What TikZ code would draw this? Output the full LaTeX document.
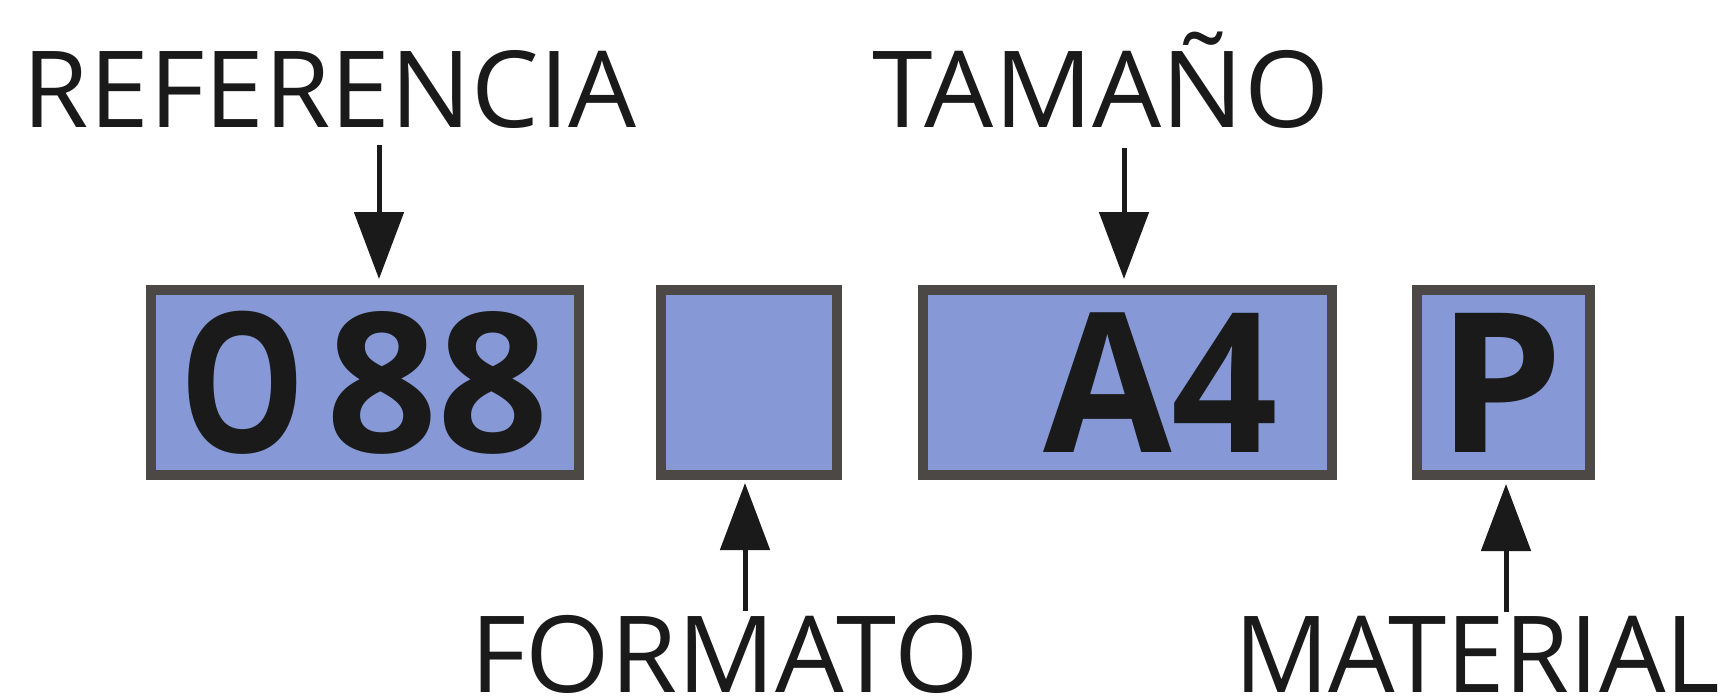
\documentclass[tikz,border=0pt]{standalone}
\usepackage{fontspec}
\setmainfont{Open Sans}
\usetikzlibrary{arrows.meta}
\definecolor{boxfill}{HTML}{8699D6}
\definecolor{boxline}{HTML}{4B4845}
\definecolor{inkc}{HTML}{1A1A1A}
\begin{document}
\begin{tikzpicture}[x=1pt,y=-1pt,
  codebox/.style={draw=boxline,line width=10pt,fill=boxfill,inner sep=0pt,minimum height=185pt},
  lbl/.style={anchor=base west,inner sep=0pt,outer sep=0pt,text=inkc,font=\fontsize{106.4}{110}\selectfont},
  big/.style={anchor=base west,inner sep=0pt,outer sep=0pt,text=inkc,font=\bfseries\fontsize{195}{200}\selectfont},
  arr/.style={draw=inkc,line width=5pt,-{Triangle[width=49pt,length=67pt]}}]

\useasboundingbox[fill=white] (0,0) rectangle (1727,698);

% boxes
\node[codebox,minimum width=428pt] (b1) at (365,382.5) {};
\node[codebox,minimum width=176pt] (b2) at (749,382.5) {};
\node[codebox,minimum width=409pt] (b3) at (1127.5,382.5) {};
\node[codebox,minimum width=173pt] (b4) at (1503.5,382.5) {};

% codes
\node[big] (t1) at (179,452) {\scalebox{0.815}[1]{O}\kern21pt 88};
\node[big] (t3) at (1043,452) {\resizebox{235pt}{\height}{A4}};
\node[big] (t4) at (1437,452) {\resizebox{126pt}{\height}{P}};

% labels
\node[lbl] (ref) at (23,128) {\resizebox{614pt}{\height}{REFERENCIA}};
\node[lbl] (tam) at (872,128) {\resizebox{457pt}{\height}{TAMAÑO}};
\node[lbl] (for) at (470,692) {\resizebox{509pt}{\height}{FORMATO}};
\node[lbl] (mat) at (1234,692) {\resizebox{486pt}{\height}{MATERIAL}};

% arrows
\coordinate (r1) at (379,145);
\coordinate (r3) at (1124,148);
\coordinate (r2) at (745,611);
\coordinate (r4) at (1506,612);
\draw[arr,shorten >=6pt] (r1) -- (r1 |- b1.north);
\draw[arr,shorten >=6pt] (r3) -- (r3 |- b3.north);
\draw[arr,shorten >=3pt] (r2) -- (r2 |- b2.south);
\draw[arr,shorten >=4pt] (r4) -- (r4 |- b4.south);
\end{tikzpicture}
\end{document}
